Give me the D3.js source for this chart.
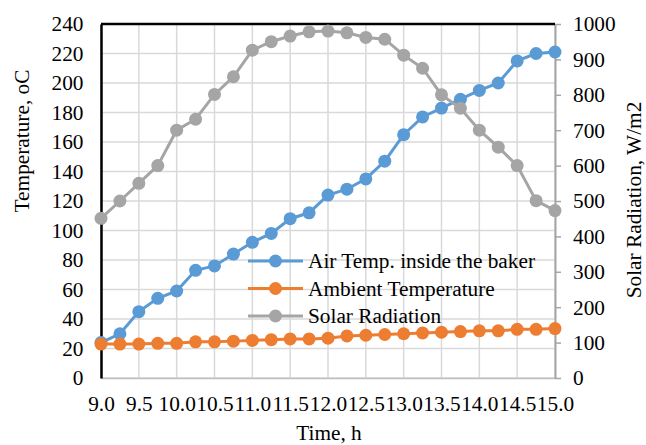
<!DOCTYPE html>
<html>
<head>
<meta charset="utf-8">
<script src="https://cdn.jsdelivr.net/npm/d3@7"></script>
<style>
  body { margin: 0; background: #fff; }
</style>
</head>
<body>
<div id="chart"></div>
<script>
// data
const times = [9.0, 9.25, 9.5, 9.75, 10.0, 10.25, 10.5, 10.75, 11.0, 11.25, 11.5, 11.75, 12.0,
               12.25, 12.5, 12.75, 13.0, 13.25, 13.5, 13.75, 14.0, 14.25, 14.5, 14.75, 15.0];
const airTemp = [24, 30, 45, 54, 59, 73, 76, 84, 92, 98, 108, 112, 124,
                 128, 135, 147, 165, 177, 183, 189, 195, 200, 215, 220, 221];
const ambientTemp = [23, 23, 23, 23.5, 23.5, 24.5, 24.5, 25, 25.5, 26, 26.5, 26.5, 27,
                     28.5, 29, 29.5, 30, 30.5, 31, 31.5, 32, 32, 33, 33, 33.5];
const solarRad = [451, 500, 550, 600, 700, 731, 801, 851, 926, 950, 966, 978, 980,
                  975, 962, 957, 912, 875, 800, 762, 700, 652, 600, 501, 473];
const xTicks = d3.range(9, 15.01, 0.5);
const leftTicks = d3.range(0, 241, 20);
const rightTicks = d3.range(0, 1001, 100);
const seriesNames = ["Air Temp. inside the baker", "Ambient Temperature", "Solar Radiation"];
const colors = ["#5B9BD5", "#ED7D31", "#A5A5A5"];

const width = 646, height = 445;
const margin = { top: 24, right: 91, bottom: 67, left: 101 };
const fontFamily = '"Liberation Serif", "Times New Roman", serif';
const fontSize = "21.3px";

const svg = d3.select("#chart").append("svg")
    .attr("width", width)
    .attr("height", height)
    .style("font-family", fontFamily);

const x = d3.scaleLinear().domain([9, 15]).range([margin.left, width - margin.right]);
const yL = d3.scaleLinear().domain([0, 240]).range([height - margin.bottom, margin.top]);
const yR = d3.scaleLinear().domain([0, 1000]).range([height - margin.bottom, margin.top]);

function styleText(sel) {
    sel.attr("font-family", null).attr("font-size", null)
        .style("font-family", fontFamily)
        .style("font-size", fontSize)
        .attr("fill", "#000");
}

// gridlines
svg.append("g").selectAll("line")
    .data(xTicks)
    .enter().append("line")
    .attr("x1", d => x(d)).attr("x2", d => x(d))
    .attr("y1", yL(0)).attr("y2", yL(240))
    .attr("stroke", "#d9d9d9").attr("stroke-width", 1.5);

svg.append("g").selectAll("line")
    .data(leftTicks)
    .enter().append("line")
    .attr("x1", x(9)).attr("x2", x(15))
    .attr("y1", d => yL(d)).attr("y2", d => yL(d))
    .attr("stroke", "#d9d9d9").attr("stroke-width", 1.5);

// bottom axis (grey, no ticks)
const xAxis = svg.append("g")
    .attr("transform", `translate(0,${yL(0)})`)
    .call(d3.axisBottom(x).tickValues(xTicks).tickFormat(d3.format(".1f")).tickSize(0).tickPadding(18));
xAxis.attr("font-family", null).attr("font-size", null);
xAxis.select(".domain").attr("stroke", "#bfbfbf").attr("stroke-width", 1.5);
styleText(xAxis.selectAll("text"));

// left axis (black, no ticks)
const leftAxis = svg.append("g")
    .attr("transform", `translate(${x(9)},0)`)
    .call(d3.axisLeft(yL).tickValues(leftTicks).tickSize(0).tickPadding(17.5));
leftAxis.attr("font-family", null).attr("font-size", null);
leftAxis.select(".domain").attr("stroke", "#000").attr("stroke-width", 2.5);
styleText(leftAxis.selectAll("text"));

// right axis (grey, outward ticks)
const rightAxis = svg.append("g")
    .attr("transform", `translate(${x(15)},0)`)
    .call(d3.axisRight(yR).tickValues(rightTicks).tickFormat(d3.format("d"))
        .tickSizeInner(6).tickSizeOuter(0).tickPadding(12));
rightAxis.attr("font-family", null).attr("font-size", null);
rightAxis.select(".domain").attr("stroke", "#a6a6a6").attr("stroke-width", 2);
rightAxis.selectAll(".tick line").attr("stroke", "#a6a6a6").attr("stroke-width", 1.5);
styleText(rightAxis.selectAll("text"));

// black line across the top
svg.append("line")
    .attr("x1", x(9)).attr("x2", x(15))
    .attr("y1", yL(240)).attr("y2", yL(240))
    .attr("stroke", "#000").attr("stroke-width", 2.5);

// series
const series = [
    { values: airTemp, y: yL },
    { values: ambientTemp, y: yL },
    { values: solarRad, y: yR }
];

series.forEach((s, i) => {
    const line = d3.line()
        .x((d, j) => x(times[j]))
        .y(d => s.y(d));
    const g = svg.append("g");
    g.append("path")
        .datum(s.values)
        .attr("d", line)
        .attr("fill", "none")
        .attr("stroke", colors[i])
        .attr("stroke-width", 3);
    g.selectAll("circle")
        .data(s.values)
        .enter().append("circle")
        .attr("cx", (d, j) => x(times[j]))
        .attr("cy", d => s.y(d))
        .attr("r", 6.5)
        .attr("fill", colors[i]);
});

// legend
const legend = svg.append("g").attr("transform", "translate(248,261)");
seriesNames.forEach((name, i) => {
    const row = legend.append("g").attr("transform", `translate(0,${i * 27.5})`);
    row.append("line")
        .attr("x1", 0).attr("x2", 55)
        .attr("stroke", colors[i]).attr("stroke-width", 3);
    row.append("circle")
        .attr("cx", 27.5).attr("r", 6.5)
        .attr("fill", colors[i]);
    row.append("text")
        .attr("x", 60).attr("dy", "0.35em")
        .text(name)
        .call(styleText);
});

// axis titles
svg.append("text")
    .attr("transform", "translate(29,141) rotate(-90)")
    .attr("text-anchor", "middle")
    .text("Temperature, oC")
    .call(styleText);

svg.append("text")
    .attr("transform", "translate(641,200) rotate(-90)")
    .attr("text-anchor", "middle")
    .text("Solar Radiation, W/m2")
    .call(styleText);

svg.append("text")
    .attr("x", 329).attr("y", 440)
    .attr("text-anchor", "middle")
    .text("Time, h")
    .call(styleText);
</script>
</body>
</html>
